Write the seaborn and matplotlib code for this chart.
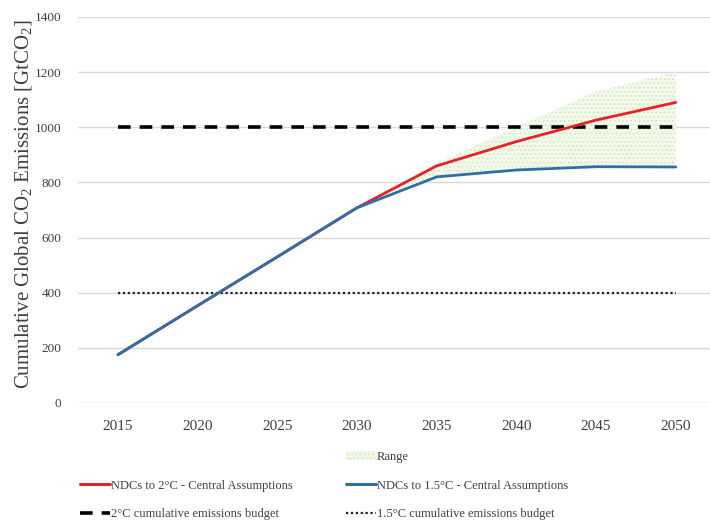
import matplotlib
matplotlib.use("Agg")
import matplotlib.pyplot as plt
import seaborn as sns
import pandas as pd
from matplotlib.lines import Line2D
from matplotlib.patches import Patch

# Cumulative global CO2 emissions (GtCO2)
years = [2015, 2020, 2025, 2030, 2035, 2040, 2045, 2050]
ndc_2c = [175, 353, 530, 708, 860, 948, 1026, 1090]
ndc_15c = [175, 353, 530, 708, 820, 845, 857, 856]
range_years = [2030, 2035, 2040, 2045, 2050]
range_low = [708, 820, 845, 857, 856]
range_high = [708, 870, 1000, 1130, 1200]
budget_2c = [1000] * 8
budget_15c = [400] * 8
y_ticks = [0, 200, 400, 600, 800, 1000, 1200, 1400]

sns.set_theme(style="white")
plt.rcParams["font.family"] = ["Liberation Serif", "DejaVu Serif"]
plt.rcParams["mathtext.fontset"] = "custom"
plt.rcParams["mathtext.rm"] = "Liberation Serif"
plt.rcParams["mathtext.it"] = "Liberation Serif:italic"
plt.rcParams["hatch.linewidth"] = 0.6

df = pd.DataFrame({"year": years, "ndc_2c": ndc_2c, "ndc_15c": ndc_15c,
                   "b2": budget_2c, "b15": budget_15c})

fig = plt.figure(figsize=(7.10, 5.21), dpi=100)
ax = fig.add_axes([0.11, 0.2265, 0.89, 0.7409])

grid_c = "#d9d9d9"
for v in y_ticks:
    ax.axhline(v, color=grid_c, lw=1.0, zorder=0)

ax.fill_between(range_years, range_low, range_high, facecolor="#f3f9ea",
                edgecolor="#cfe5b4", hatch="....", linewidth=0, zorder=1)

sns.lineplot(data=df, x="year", y="b2", ax=ax, color="black", lw=2.6,
             zorder=3).lines[-1].set_dashes([3.5, 2.5])
sns.lineplot(data=df, x="year", y="b15", ax=ax, color="#222222", lw=1.6,
             zorder=3).lines[-1].set_dashes([1.0, 1.2])
sns.lineplot(data=df, x="year", y="ndc_2c", ax=ax, color="#e8202a", lw=2.0, zorder=4)
sns.lineplot(data=df, x="year", y="ndc_15c", ax=ax, color="#2f6fa8", lw=2.0, zorder=5)

ax.set_xlim(2012.5, 2052.15)
ax.set_ylim(0, 1400)
ax.set_xticks(years)
ax.set_xticklabels([str(y) for y in years], fontsize=11, color="#404040")
ax.set_yticks(y_ticks)
ax.set_yticklabels([str(v) for v in y_ticks], fontsize=9.5, color="#404040")
ax.tick_params(axis="x", length=0, pad=12)
ax.tick_params(axis="y", length=0, pad=12)
ax.set_xlabel("")
ax.set_ylabel("Cumulative Global CO$_2$ Emissions [GtCO$_2$]", fontsize=15,
              color="#404040")
ax.yaxis.set_label_coords(-0.069, 0.515)
for s in ax.spines.values():
    s.set_visible(False)

blank = Line2D([], [], alpha=0)
h_red = Line2D([], [], color="#e8202a", lw=2.2)
h_dash = Line2D([], [], color="black", lw=2.6, dashes=[3.5, 2.5])
h_range = Patch(facecolor="#f3f9ea", edgecolor="#cfe5b4", hatch="....", linewidth=0)
h_blue = Line2D([], [], color="#2f6fa8", lw=2.2)
h_dot = Line2D([], [], color="#222222", lw=1.6, dashes=[1.0, 1.2])
handles = [blank, h_red, h_dash, h_range, h_blue, h_dot]
labels = ["", "NDCs to 2°C - Central Assumptions", "2°C cumulative emissions budget",
          "Range", "NDCs to 1.5°C - Central Assumptions", "1.5°C cumulative emissions budget"]
leg = fig.legend(handles, labels, ncol=2, loc="upper left",
                 bbox_to_anchor=(0.113, 0.135), frameon=False, fontsize=9,
                 handlelength=2.4, handletextpad=0.1, columnspacing=4.2,
                 labelspacing=1.35, borderpad=0, borderaxespad=0)
for t in leg.get_texts():
    t.set_color("#404040")

fig.savefig("out.png", dpi=100)
